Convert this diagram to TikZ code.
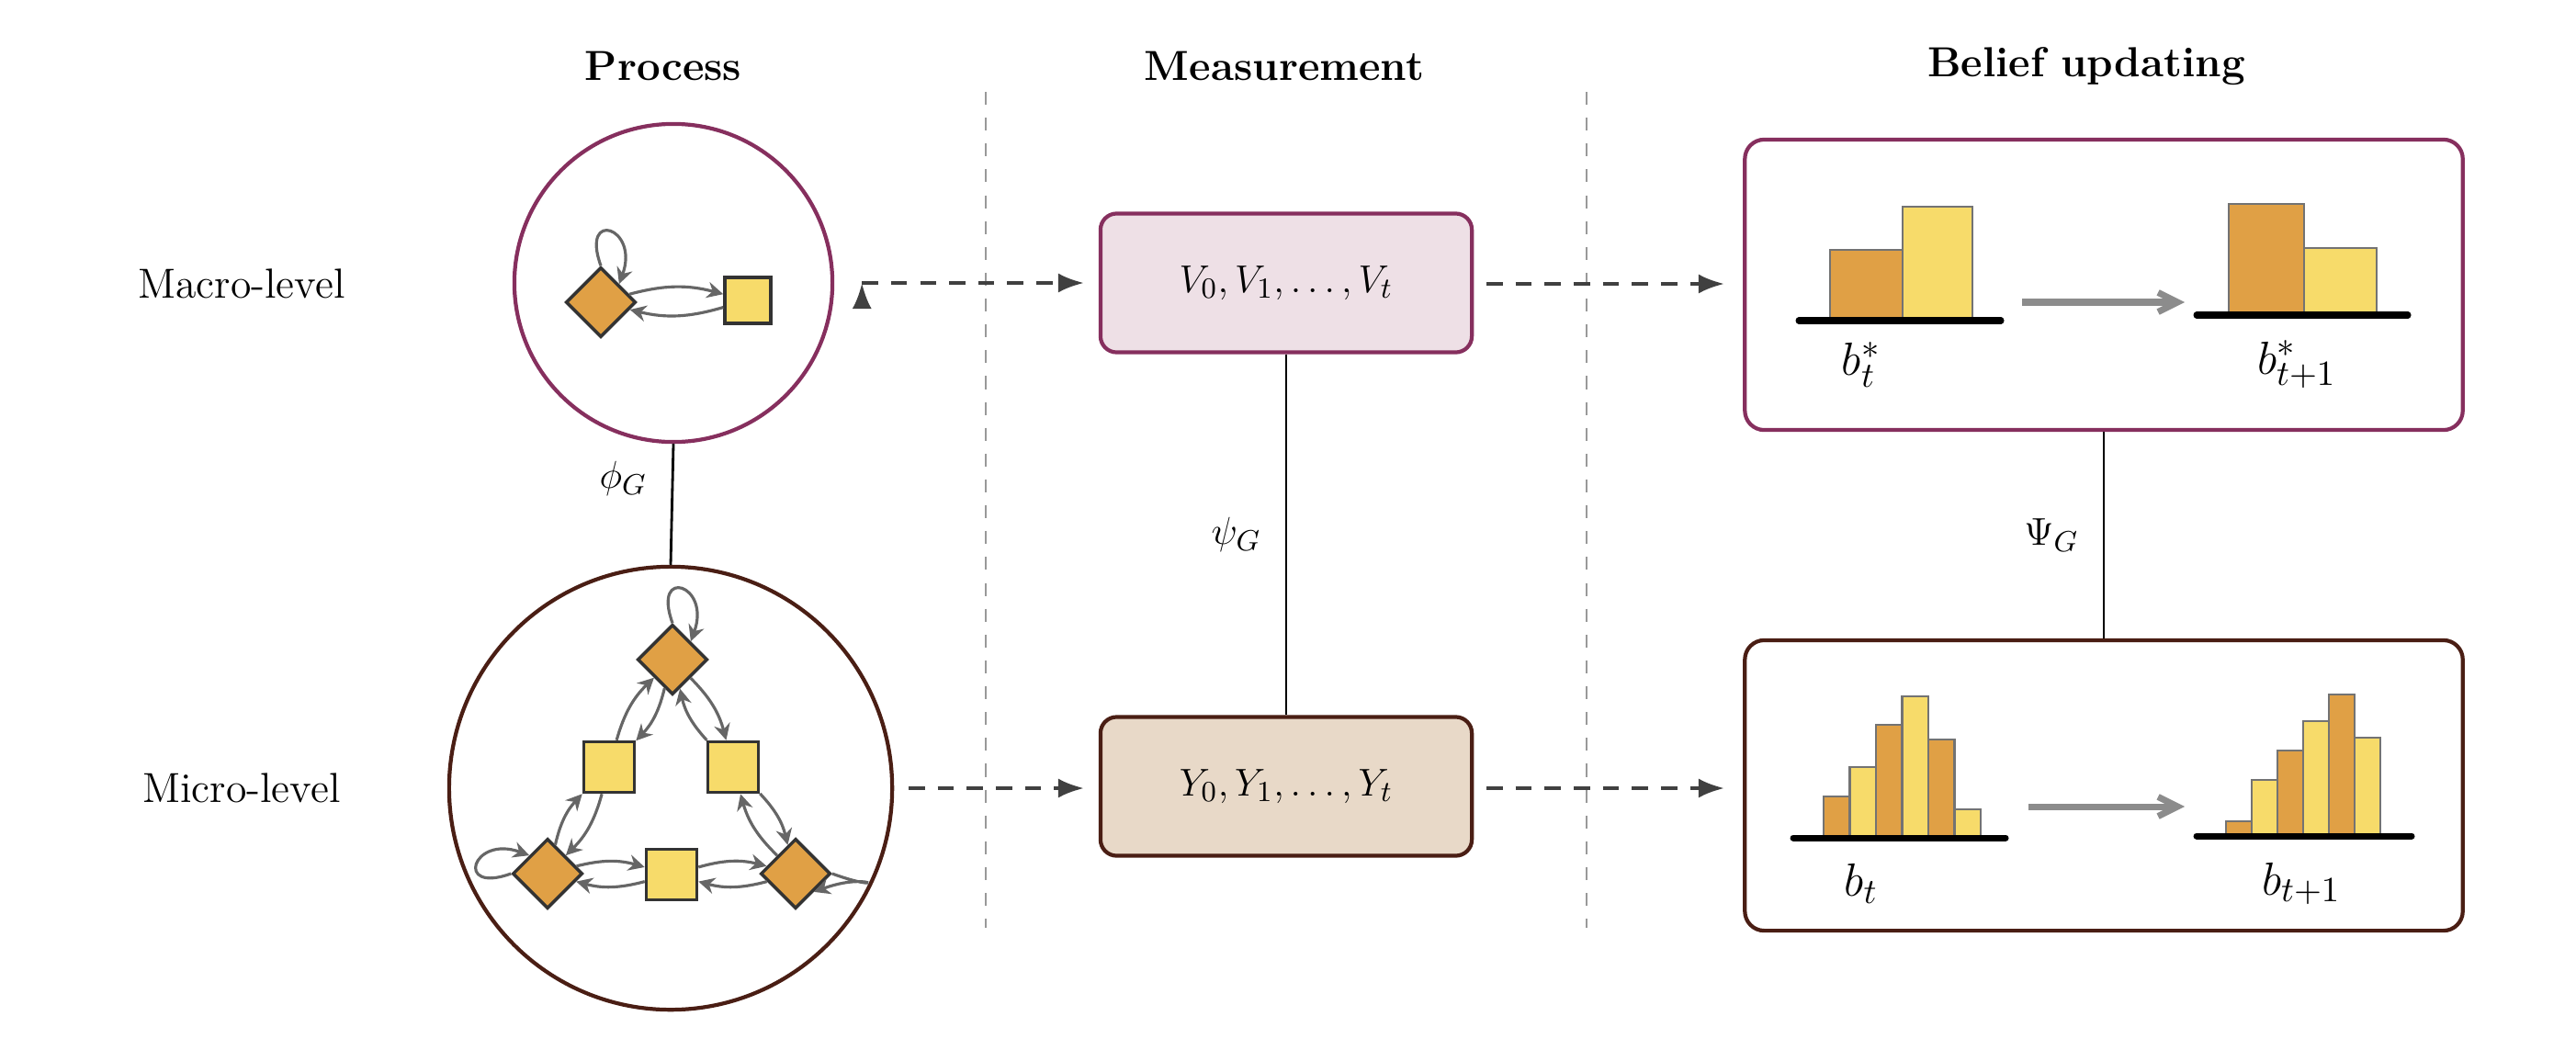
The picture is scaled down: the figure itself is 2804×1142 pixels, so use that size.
\documentclass[tikz,border=0pt]{standalone}
\usetikzlibrary{shapes.geometric,arrows.meta}
\definecolor{macroc}{HTML}{862F5E}
\definecolor{microc}{HTML}{4A1E14}
\definecolor{macrofill}{HTML}{EEE0E6}
\definecolor{microfill}{HTML}{E8D9C8}
\definecolor{orng}{HTML}{E0A045}
\definecolor{yell}{HTML}{F7DB6A}
\begin{document}
\begin{tikzpicture}[x=0.01cm,y=-0.01cm,font=\fontsize{13}{15}\selectfont,
  dia/.style={diamond,draw=black!80,line width=1pt,fill=orng,minimum size=0.76cm,inner sep=0pt},
  sq/.style={rectangle,draw=black!80,line width=1pt,fill=yell,minimum size=0.55cm,inner sep=0pt},
  ga/.style={draw=black!60,line width=0.9pt,-{Stealth[length=5pt,width=5pt]}},
  lvl/.style={circle,line width=1.2pt,inner sep=0pt},
  mbox/.style={rectangle,rounded corners=5pt,line width=1.2pt,minimum width=4.04cm,minimum height=1.51cm},
  bbox/.style={rectangle,rounded corners=6pt,line width=1.2pt,minimum width=7.81cm,minimum height=3.16cm},
  flow/.style={draw=black!75,line width=1.1pt,dash pattern=on 5pt off 4pt,-{Latex[length=8pt,width=6pt]}},
  sep/.style={draw=black!40,line width=0.5pt,dash pattern=on 4pt off 4pt},
  bar/.style={draw=black!55,line width=0.8pt},
  base/.style={line width=2pt,line cap=round},
  garr/.style={draw=black!45,line width=2pt,-{Straight Barb[length=6pt,width=6pt]}},
  blab/.style={font=\fontsize{15}{17}\selectfont}]
\useasboundingbox (0,0) rectangle (2804,1142);
% headers
\node[font=\fontsize{13}{15}\selectfont\bfseries] (h1) at (722,72) {Process};
\node[font=\fontsize{13}{15}\selectfont\bfseries] (h2) at (1398,72) {Measurement};
\node[font=\fontsize{13}{15}\selectfont\bfseries] (h3) at (2271,72) {Belief updating};
\coordinate (s1a) at (1073,100); \coordinate (s1b) at (1073,1010);
\coordinate (s2a) at (1727,100); \coordinate (s2b) at (1727,1010);
\draw[sep] (s1a) -- (s1b); \draw[sep] (s2a) -- (s2b);
\node (r1) at (263,309) {Macro-level};
\node (r2) at (263,858) {Micro-level};
% process circles
\node[lvl,draw=macroc,minimum size=3.46cm] (C1) at (733,308) {};
\node[lvl,draw=microc,minimum size=4.82cm] (C2) at (730,858) {};
\draw[line width=0.8pt] (C1.south) -- node[left,xshift=-4pt,yshift=8pt]{$\phi_G$} (C2.north);
% macro graph
\node[dia] (md) at (654,329) {};
\node[sq,minimum size=0.5cm] (ms) at (814,327) {};
\draw[ga] (md) to[bend left=15] (ms);
\draw[ga] (ms) to[bend left=15] (md);
\draw[ga] (md.north) to[out=110,in=70,looseness=6] (md.north east);
% micro graph
\node[dia] (t) at (732,718) {};
\node[sq] (l) at (663,835) {};
\node[sq] (r) at (798,835) {};
\node[dia] (bl) at (596,951) {};
\node[sq] (b) at (731,952) {};
\node[dia] (br) at (866,951) {};
\foreach \a/\c in {t/l,l/t,t/r,r/t,l/bl,bl/l,r/br,br/r,bl/b,b/bl,b/br,br/b}
  \draw[ga] (\a) to[bend left=15] (\c);
\draw[ga] (t.north) to[out=110,in=70,looseness=6] (t.north east);
\draw[ga] (bl.west) to[out=200,in=160,looseness=6] (bl.north west);
\draw[ga] (br.east) to[out=-20,in=20,looseness=6] (br.south east);
% measurement
\node[mbox,draw=macroc,fill=macrofill] (M1) at (1400,308) {$V_0,V_1,\ldots,V_t$};
\node[mbox,draw=microc,fill=microfill] (M2) at (1400,856) {$Y_0,Y_1,\ldots,Y_t$};
\draw[line width=0.8pt] (M1.south) -- node[left,xshift=-4pt]{$\psi_G$} (M2.north);
% belief boxes
\node[bbox,draw=macroc] (B1) at (2290,310) {};
\node[bbox,draw=microc] (B2) at (2290,855) {};
\draw[line width=0.8pt] (B1.south) -- node[left,xshift=-4pt]{$\Psi_G$} (B2.north);
% flows
\draw[flow] (C1.east) ++(0.3cm,0) coordinate(f1) ; 
\draw[flow] (f1) -- (M1.west -| 1180,0);
\coordinate (f2) at (1618,309); \coordinate (f2e) at (1877,309);
\draw[flow] (f2) -- (f2e);
\coordinate (f3) at (989,858); \coordinate (f3e) at (1180,858);
\draw[flow] (f3) -- (f3e);
\coordinate (f4) at (1618,858); \coordinate (f4e) at (1877,858);
\draw[flow] (f4) -- (f4e);
% macro histograms
\draw[bar,fill=orng] (1992,349) rectangle (2071,272);
\draw[bar,fill=yell] (2071,349) rectangle (2147,225);
\draw[base] (1958,349) -- (2178,349);
\node[blab] (l1) at (2026,397) {$b^*_t$};
\coordinate (a1) at (2201,329); \coordinate (a1e) at (2378,329);
\draw[garr] (a1) -- (a1e);
\draw[bar,fill=orng] (2426,343) rectangle (2508,222);
\draw[bar,fill=yell] (2508,343) rectangle (2587,270);
\draw[base] (2391,343) -- (2621,343);
\node[blab] (l2) at (2500,397) {$b^*_{t+1}$};
% micro histograms
\foreach \i/\h/\c in {0/867/orng,1/835/yell,2/789/orng,3/758/yell,4/805/orng,5/881/yell}
  \draw[bar,fill=\c] ({1985+28.5*\i},912) rectangle ({1985+28.5*(\i+1)},\h);
\draw[base] (1952,912) -- (2183,912);
\node[blab] (l3) at (2026,962) {$b_t$};
\coordinate (a2) at (2208,878); \coordinate (a2e) at (2378,878);
\draw[garr] (a2) -- (a2e);
\foreach \i/\h/\c in {0/894/orng,1/849/yell,2/817/orng,3/785/yell,4/756/orng,5/803/yell}
  \draw[bar,fill=\c] ({2423+28*\i},910) rectangle ({2423+28*(\i+1)},\h);
\draw[base] (2391,910) -- (2625,910);
\node[blab] (l4) at (2505,962) {$b_{t+1}$};
\end{tikzpicture}
\end{document}
